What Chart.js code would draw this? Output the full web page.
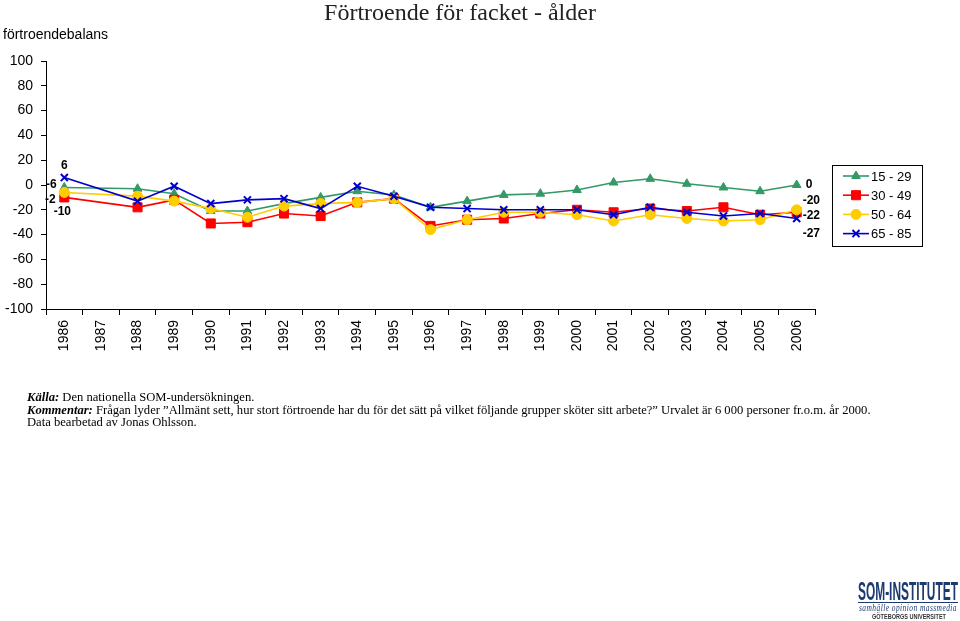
<!DOCTYPE html>
<html>
<head>
<meta charset="utf-8">
<script src="https://cdn.jsdelivr.net/npm/chart.js@4"></script>
<style>
  body { margin: 0; background: #fff; }
  #wrap { position: absolute; left: 0; top: 0; width: 960px; height: 621px; }
  .txt { position: absolute; color: #000; white-space: nowrap; }
  #title { left: 0; top: -1px; width: 920px; text-align: center; font: 24px 'Liberation Serif', serif; color: #222; }
  #ytitle { left: 3px; top: 26px; font: 14px 'Liberation Sans', Arial, sans-serif; }
  #notes { left: 27px; top: 391px; font: 12.6px 'Liberation Serif', serif; line-height: 12.6px; }
  .fit { position: absolute; white-space: nowrap; transform-origin: 0 0; color: #1d3a70; }
  #logoBig { left: 858px; top: 578px; font: bold 25px 'Liberation Sans', sans-serif; line-height: 26px; }
  #logoRule { position: absolute; left: 858px; top: 602px; width: 100px; height: 1px; background: #1d3a70; }
  #logoMid { left: 859px; top: 602px; font: italic 10px 'Liberation Serif', serif; line-height: 11px; letter-spacing: 0.6px; }
  #logoSmall { left: 872px; top: 612px; font: bold 7px 'Liberation Sans', sans-serif; line-height: 9px; color: #333; }
</style>
</head>
<body>
<div id="wrap"><canvas id="myChart"></canvas></div>
<div class="txt" id="title">Förtroende för facket - ålder</div>
<div class="txt" id="ytitle">förtroendebalans</div>
<div class="txt" id="notes">
  <b><i>Källa:</i></b> Den nationella SOM-undersökningen.<br>
  <b><i>Kommentar:</i></b> Frågan lyder ”Allmänt sett, hur stort förtroende har du för det sätt på vilket följande grupper sköter sitt arbete?” Urvalet är 6 000 personer fr.o.m. år 2000.<br>
  Data bearbetad av Jonas Ohlsson.
</div>
<div class="fit" id="logoBig" data-w="100">SOM-INSTITUTET</div>
<div id="logoRule"></div>
<div class="fit" id="logoMid" data-w="98">samhälle opinion massmedia</div>
<div class="fit" id="logoSmall" data-w="74">GÖTEBORGS UNIVERSITET</div>
<script>
const years = ['1986', '1987', '1988', '1989', '1990', '1991', '1992', '1993', '1994', '1995', '1996',
    '1997', '1998', '1999', '2000', '2001', '2002', '2003', '2004', '2005', '2006'];
const age1529 = [-2, null, -3, -7, -21, -21, -15, -10, -5, -8, -18, -13, -8, -7, -4, 2, 5, 1, -2, -5, 0];
const age3049 = [-10, null, -18, -12, -31, -30, -23, -25, -14, -11, -33, -28, -27, -23, -20, -22, -19, -21, -18, -24, -22];
const age5064 = [-6, null, -9, -13, -19, -26, -17, -15, -14, -11, -36, -28, -22, -22, -24, -29, -24, -27, -29, -28, -20];
const age6585 = [6, null, -13, -1, -15, -12, -11, -19, -1, -9, -18, -19, -20, -20, -20, -24, -18, -22, -25, -23, -27];
const yTicks = [-100, -80, -60, -40, -20, 0, 20, 40, 60, 80, 100];

const FONT = "'Liberation Sans', Arial, sans-serif";

// squeeze the logo texts to their widths
document.querySelectorAll('.fit').forEach(el => {
    const w = el.getBoundingClientRect().width;
    el.style.transform = 'scaleX(' + (Number(el.dataset.w) / w) + ')';
});

function series(label, data, color, style, radius, order) {
    return {
        label: label,
        data: data,
        borderColor: color,
        backgroundColor: color,
        pointBorderColor: color,
        pointBackgroundColor: color,
        pointStyle: style,
        pointRadius: radius,
        pointHoverRadius: radius,
        pointBorderWidth: style === 'crossRot' ? 2 : 1,
        borderWidth: 1.6,
        tension: 0,
        spanGaps: true,
        order: order
    };
}

const datasets = [
    series('15 - 29', age1529, '#339966', 'triangle', 5, 3),
    series('30 - 49', age3049, '#ff0000', 'rect', 6.4, 2),
    series('50 - 64', age5064, '#ffcc00', 'circle', 5, 1),
    series('65 - 85', age6585, '#0000cc', 'crossRot', 5, 0)
];

// label offsets (dx, dy, align) for first and last point of each series
const firstOffsets = [[-14, 12, 'center'], [-2, 14, 'center'], [-13, -8, 'center'], [0, -12, 'center']];
const lastOffsets = [[9, 0, 'left'], [6, 3, 'left'], [6, -9, 'left'], [6, 15, 'left']];

const extras = {
    id: 'extras',
    afterDatasetsDraw(chart) {
        const ctx = chart.ctx;
        ctx.save();
        ctx.font = 'bold 12px ' + FONT;
        ctx.fillStyle = '#000';
        ctx.textBaseline = 'middle';
        chart.data.datasets.forEach((ds, i) => {
            const meta = chart.getDatasetMeta(i);
            const last = ds.data.length - 1;
            [[0, firstOffsets[i]], [last, lastOffsets[i]]].forEach(([idx, off]) => {
                const pt = meta.data[idx];
                ctx.textAlign = off[2];
                ctx.fillText(String(ds.data[idx]), pt.x + off[0], pt.y + off[1]);
            });
        });

        // legend box
        const lx = 832, ly = 165, lw = 90, lh = 81;
        ctx.strokeStyle = '#000';
        ctx.lineWidth = 1;
        ctx.strokeRect(lx + 0.5, ly + 0.5, lw, lh);
        ctx.font = '13px ' + FONT;
        ctx.textAlign = 'left';
        chart.data.datasets.forEach((ds, i) => {
            const y = ly + 11 + i * 19.2;
            ctx.strokeStyle = ds.borderColor;
            ctx.lineWidth = 1.6;
            ctx.beginPath();
            ctx.moveTo(lx + 11, y);
            ctx.lineTo(lx + 37, y);
            ctx.stroke();
            ctx.fillStyle = ds.backgroundColor;
            ctx.lineWidth = ds.pointBorderWidth;
            Chart.helpers.drawPoint(ctx, { pointStyle: ds.pointStyle, radius: ds.pointRadius, rotation: 0, borderWidth: ds.pointBorderWidth }, lx + 24, y);
            ctx.fillStyle = '#000';
            ctx.fillText(ds.label, lx + 39, y + 1);
        });
        ctx.restore();
    }
};

const ctx = document.getElementById('myChart').getContext('2d');
new Chart(ctx, {
    type: 'line',
    data: { labels: years, datasets: datasets },
    plugins: [extras],
    options: {
        responsive: true,
        maintainAspectRatio: false,
        animation: false,
        layout: { padding: { top: 61, right: 145, bottom: 252, left: 0 } },
        plugins: {
            legend: { display: false },
            title: { display: false },
            tooltip: { enabled: false }
        },
        scales: {
            x: {
                offset: true,
                grid: { display: true, drawOnChartArea: false, drawTicks: true, tickLength: 6, offset: true, color: '#000' },
                border: { display: true, color: '#000', width: 1 },
                ticks: { minRotation: 90, maxRotation: 90, padding: 5, color: '#000', font: { family: FONT, size: 14 } },
                afterFit(scale) { scale.height = 60; }
            },
            y: {
                min: -100,
                max: 100,
                afterBuildTicks(scale) { scale.ticks = yTicks.map(v => ({ value: v })); },
                grid: { display: true, drawOnChartArea: false, drawTicks: true, tickLength: 5, color: '#000' },
                border: { display: true, color: '#000', width: 1 },
                ticks: { padding: 8, color: '#000', font: { family: FONT, size: 14 } },
                afterFit(scale) { scale.width = 46; }
            }
        }
    }
});
</script>
</body>
</html>
